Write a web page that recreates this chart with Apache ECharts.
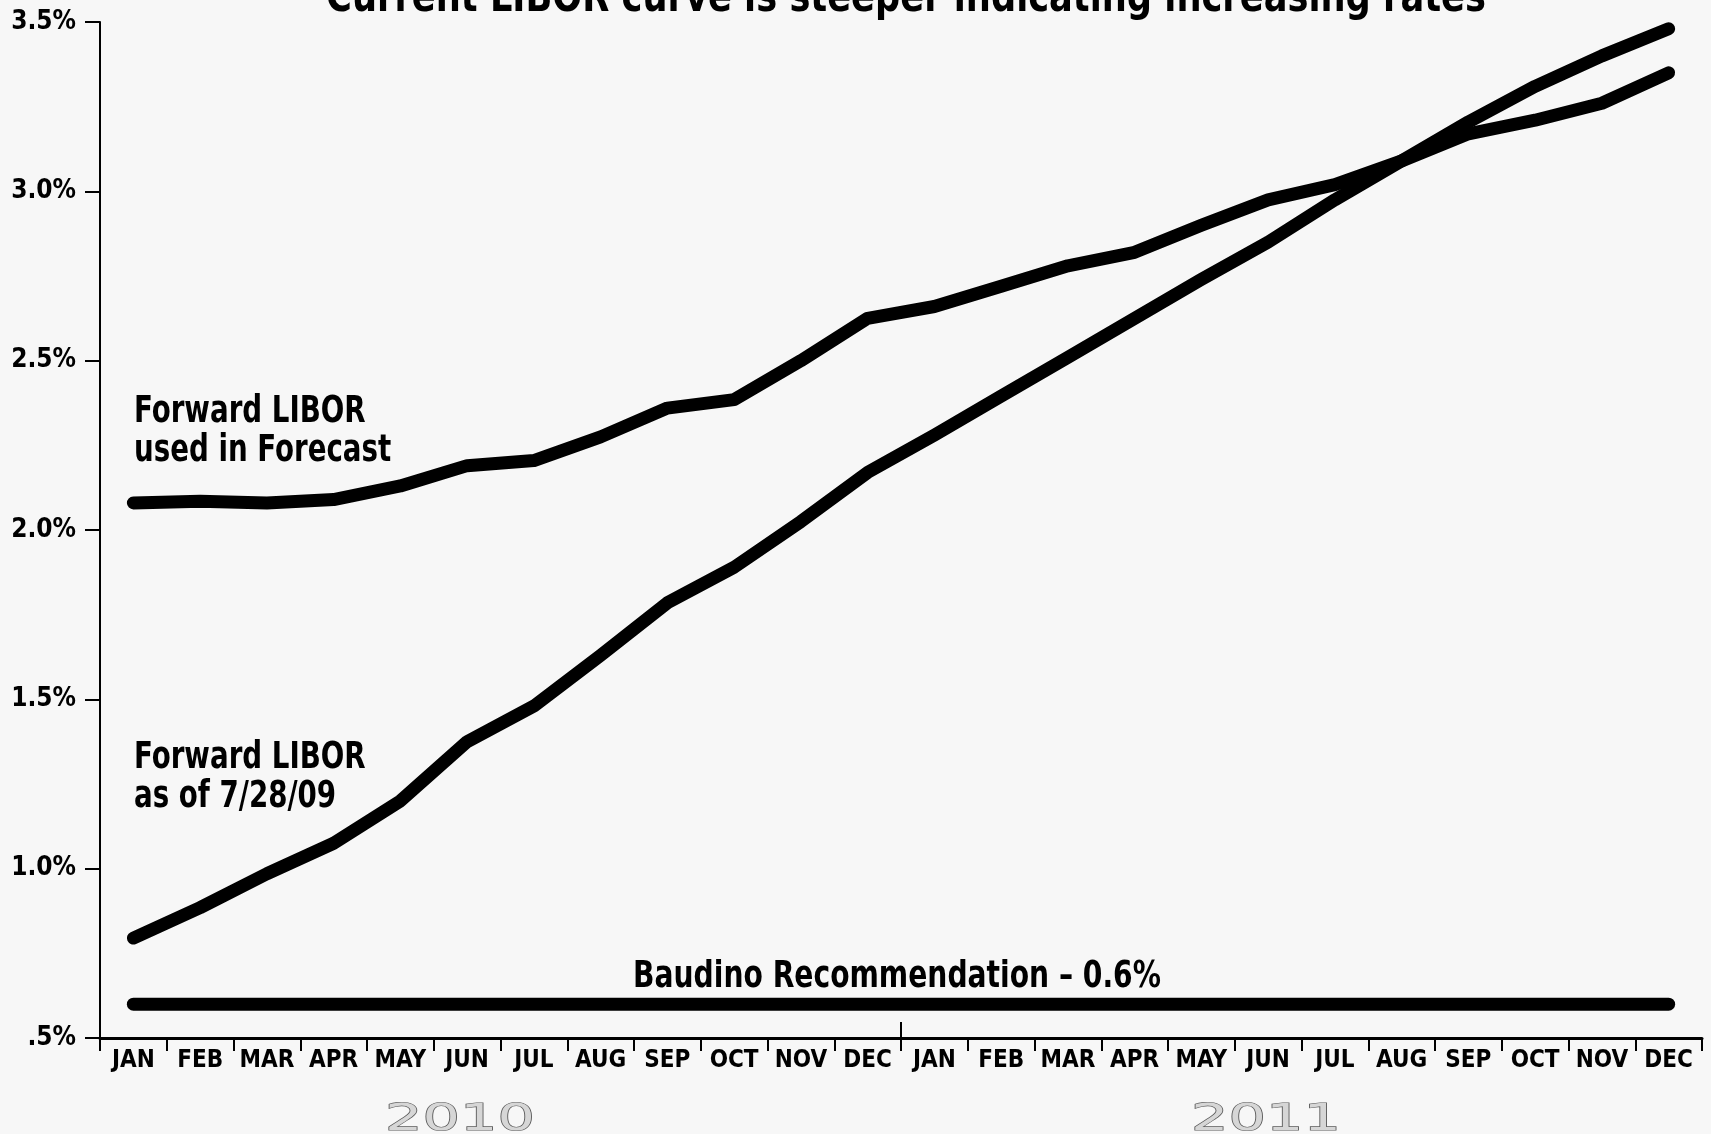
<!DOCTYPE html>
<html>
<head>
<meta charset="utf-8">
<script src="https://cdn.jsdelivr.net/npm/echarts@6/dist/echarts.min.js"></script>
<style>
  html, body { margin: 0; padding: 0; background: #f7f7f7; }
  #mychart { width: 1711px; height: 1134px; }
</style>
</head>
<body>
<div id="mychart"></div>
<script>
// months, two years
const months = ['JAN', 'FEB', 'MAR', 'APR', 'MAY', 'JUN', 'JUL', 'AUG', 'SEP', 'OCT', 'NOV', 'DEC'];
const categories = months.concat(months);
const years = ['2010', '2011'];

// Forward LIBOR used in Forecast (%)
const forecastLibor = [2.08, 2.085, 2.08, 2.09, 2.13, 2.19, 2.205, 2.275, 2.36, 2.385, 2.5, 2.625,
  2.66, 2.72, 2.78, 2.82, 2.9, 2.975, 3.02, 3.09, 3.17, 3.21, 3.26, 3.35];
// Forward LIBOR as of 7/28/09 (%)
const libor072809 = [0.795, 0.885, 0.985, 1.075, 1.2, 1.375, 1.48, 1.63, 1.785, 1.89, 2.025, 2.17,
  2.28, 2.395, 2.51, 2.625, 2.74, 2.85, 2.975, 3.09, 3.205, 3.31, 3.4, 3.48];
// Baudino Recommendation
const baudino = categories.map(() => 0.6);

const yMin = 0.5, yMax = 3.5, yStep = 0.5;

const FONT = '"DejaVu Sans Condensed", "DejaVu Sans", sans-serif';
const ink = '#000';

let myChart;

function lineSeries(name, data) {
  return {
    name: name,
    type: 'line',
    data: data,
    showSymbol: false,
    symbol: 'none',
    silent: true,
    lineStyle: { color: ink, width: 13, cap: 'round', join: 'round' },
  };
}

let option = {
  backgroundColor: '#f7f7f7',
  animation: false,
  grid: { left: 100, right: 9, top: 22, bottom: 96, containLabel: false },
  xAxis: {
    type: 'category',
    data: categories,
    boundaryGap: true,
    axisLine: { lineStyle: { color: ink, width: 3 } },
    axisTick: { show: true, interval: 0, length: 13, lineStyle: { color: ink, width: 2 } },
    axisLabel: {
      interval: 0,
      margin: 11,
      color: ink,
      fontFamily: FONT,
      fontWeight: 'bold',
      fontSize: 24,
    },
    splitLine: { show: false },
  },
  yAxis: {
    type: 'value',
    min: yMin,
    max: yMax,
    interval: yStep,
    axisLine: { show: true, lineStyle: { color: ink, width: 2 } },
    axisTick: { show: true, length: 15, lineStyle: { color: ink, width: 2 } },
    axisLabel: {
      margin: 24,
      color: ink,
      fontFamily: FONT,
      fontWeight: 'bold',
      fontSize: 26,
      formatter: (v) => (v === 0.5 ? '.5%' : v.toFixed(1) + '%'),
    },
    splitLine: { show: false },
  },
  series: [
    lineSeries('Forward LIBOR used in Forecast', forecastLibor),
    lineSeries('Forward LIBOR as of 7/28/09', libor072809),
    lineSeries('Baudino Recommendation', baudino),
  ],
};

function textGraphic(x, y, text, size, sx, extra) {
  return {
    type: 'text',
    x: x,
    y: y,
    scaleX: sx,
    silent: true,
    style: Object.assign({
      text: text,
      fill: ink,
      font: 'bold ' + size + 'px ' + FONT,
      lineHeight: 38,
    }, extra || {}),
  };
}

function yearGraphic(x, text) {
  return textGraphic(x, 1120, text, 38, 1.55, {
    align: 'center',
    verticalAlign: 'middle',
    fill: '#d6d6d6',
    stroke: '#5a5a5a',
    lineWidth: 1.2,
    font: 'normal 38px "DejaVu Sans", sans-serif',
  });
}

// annotations + year divider, placed after the scales exist
function addGraphics() {
  const p11 = myChart.convertToPixel({ xAxisIndex: 0 }, 11);
  const p12 = myChart.convertToPixel({ xAxisIndex: 0 }, 12);
  const divX = (p11 + p12) / 2;
  const axisY = myChart.convertToPixel({ yAxisIndex: 0 }, yMin);

  myChart.setOption({
    graphic: [
      textGraphic(906, 24, 'Current LIBOR curve is steeper indicating increasing rates', 44, 0.89,
        { align: 'center', verticalAlign: 'bottom', lineHeight: 48 }),
      textGraphic(134, 393, 'Forward LIBOR\nused in Forecast', 37, 0.832, { lineHeight: 39 }),
      textGraphic(134, 739, 'Forward LIBOR\nas of 7/28/09', 37, 0.832, { lineHeight: 39 }),
      textGraphic(897, 977, 'Baudino Recommendation \u2013 0.6%', 38, 0.824,
        { align: 'center', verticalAlign: 'middle' }),
      yearGraphic(460, years[0]),
      yearGraphic(1266, years[1]),
      {
        type: 'line',
        silent: true,
        shape: { x1: divX, y1: axisY - 16, x2: divX, y2: axisY + 13 },
        style: { stroke: ink, lineWidth: 2 },
      },
    ],
  });
}

function initChart() {
  let chartDom = document.getElementById('mychart');
  myChart = echarts.init(chartDom);
  myChart.setOption(option);
  addGraphics();
}

initChart();
</script>
</body>
</html>
